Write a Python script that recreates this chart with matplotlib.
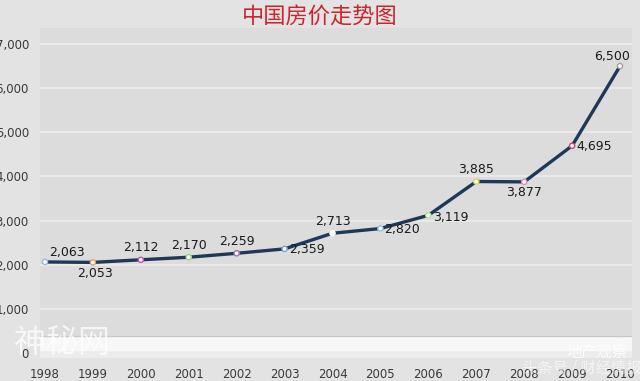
import numpy as np
import matplotlib.pyplot as plt

plt.rcParams['font.family'] = ['DejaVu Sans', 'Noto Sans CJK SC']

years = ['1998', '1999', '2000', '2001', '2002', '2003', '2004',
         '2005', '2006', '2007', '2008', '2009', '2010']
prices = [2063, 2053, 2112, 2170, 2259, 2359, 2713,
          2820, 3119, 3885, 3877, 4695, 6500]
yticks = [0, 1000, 2000, 3000, 4000, 5000, 6000, 7000]

# where each value label sits relative to its point (pixels)
label_pos = [(22, 9), (2, -11), (0, 12), (0, 12), (0, 12), (22, -1), (0, 12),
             (22, -1), (22, -2), (0, 12), (0, -11), (22, -1), (-8, 10)]
edge_cols = ['#9fb8d8', '#e0a060', '#c050c0', '#a0d080', '#a070c0', '#80a0d0', '#ffffff',
             '#90c0e0', '#b0e090', '#c8e040', '#e090b0', '#d04060', '#a0a0a0']

fig = plt.figure(figsize=(6.4, 3.81), dpi=100, facecolor='#e3e3e3')
ax = fig.add_axes([40 / 640, 23 / 381, 592 / 640, 330 / 381])
ax.set_facecolor('#dcdcdc')

x = np.arange(len(years))
ax.set_xlim(-0.104, 12.25)
ax.set_ylim(-113, 7363)

ax.set_yticks(yticks)
ax.set_yticklabels(['{:,}'.format(v) for v in yticks])
ax.set_xticks(x)
ax.set_xticklabels(years)
ax.tick_params(length=0, labelsize=8.5, labelcolor='#3a3a3a')
ax.tick_params(axis='y', pad=8)
ax.tick_params(axis='x', pad=7)

for v in yticks[1:]:
    ax.axhline(v, color='#ebebeb', lw=1.3, zorder=1)

# floor of the 3d wall
ax.axhspan(-113, 390, color='#ececec', zorder=1)
ax.axhspan(60, 370, color='#f7f7f7', zorder=1)
ax.axhline(390, color='#c9c9c9', lw=1, zorder=1)

for s in ax.spines.values():
    s.set_visible(False)

ax.plot(x, prices, color='#1f3857', lw=2.4, zorder=3, clip_on=False)
ax.scatter(x, prices, s=14, facecolor='white', edgecolor=edge_cols,
           linewidth=1, zorder=4, clip_on=False)

for xi, p, (dx, dy) in zip(x, prices, label_pos):
    ax.annotate('{:,}'.format(p), (xi, p), xytext=(dx * 0.72, dy * 0.72),
                textcoords='offset points', ha='center', va='center',
                fontsize=9, color='#1a1a1a', zorder=5)

fig.text(0.5, 1 - 17 / 381, '中国房价走势图', ha='center', va='center',
         fontsize=16, color='#c9252c', family=['Noto Sans CJK SC'])

# watermarks
fig.text(14 / 640, 1 - 343 / 381, '神秘网', ha='left', va='center', fontsize=23,
         color='white', alpha=0.75, family=['Noto Sans CJK SC'])
fig.text(566 / 640, 1 - 352 / 381, '地产观察', ha='left', va='center', fontsize=11,
         color='white', alpha=0.85, family=['Noto Sans CJK SC'])
fig.text(522 / 640, 1 - 368 / 381, '头条号 / 财经情报', ha='left', va='center', fontsize=11,
         color='white', alpha=0.6, family=['Noto Sans CJK SC'])

fig.savefig('out.png', dpi=100, facecolor=fig.get_facecolor())
